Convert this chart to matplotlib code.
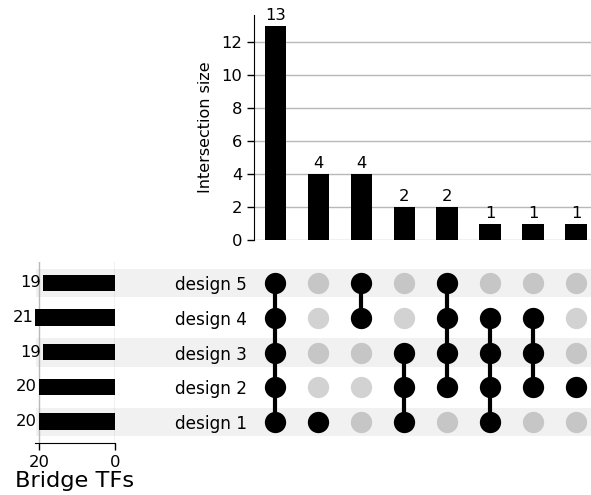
import matplotlib
matplotlib.use("Agg")
import matplotlib.pyplot as plt
from matplotlib.patches import Rectangle
from matplotlib.transforms import blended_transform_factory

# sets, listed bottom row to top row of the matrix
sets = ["design 1", "design 2", "design 3", "design 4", "design 5"]
set_sizes = [20, 20, 19, 21, 19]

# intersections, left to right
inter_sizes = [13, 4, 4, 2, 2, 1, 1, 1]
inter_members = [
    ["design 1", "design 2", "design 3", "design 4", "design 5"],
    ["design 1"],
    ["design 4", "design 5"],
    ["design 1", "design 2", "design 3"],
    ["design 2", "design 3", "design 4", "design 5"],
    ["design 1", "design 2", "design 3", "design 4"],
    ["design 2", "design 3", "design 4"],
    ["design 2"],
]

W, H = 591, 495
fig = plt.figure(figsize=(W / 100, H / 100), dpi=100)
plt.rcParams['font.family'] = ['DejaVu Sans']


def box(x0, y0, x1, y1):
    # pixel box (top-left origin) -> figure fraction rect
    return [x0 / W, 1 - y1 / H, (x1 - x0) / W, (y1 - y0) / H]


n = len(inter_sizes)
xlim = (-0.5, n - 0.65)

ax_bar = fig.add_axes(box(254, 14.5, 591, 240))
ax_mat = fig.add_axes(box(254, 265.6, 591, 439.4))
ax_tot = fig.add_axes(box(35, 262, 115, 443))
for a in (ax_bar, ax_mat, ax_tot):
    a.set_facecolor("none")

# ---- intersection size bars
x = list(range(n))
ax_bar.bar(x, inter_sizes, width=0.5, color="black", zorder=3)
for xi, v in zip(x, inter_sizes):
    ax_bar.annotate(str(v), (xi, v), xytext=(0, 2), textcoords="offset points",
                    ha="center", va="bottom", fontsize=11.8)
ax_bar.set_xlim(*xlim)
ax_bar.set_ylim(0, 13.7)
ax_bar.set_yticks(range(0, 13, 2))
ax_bar.set_xticks([])
ax_bar.tick_params(axis="y", labelsize=11.8, length=5, width=1)
ax_bar.grid(axis="y", color="#b8b8b8", lw=1, zorder=0)
for s in ("top", "right", "bottom"):
    ax_bar.spines[s].set_visible(False)
ax_bar.set_ylabel("Intersection size", fontsize=11.5, labelpad=6)

# ---- shading bands behind rows
tr = blended_transform_factory(fig.transFigure, ax_mat.transData)
for i, name in enumerate(sets):
    if i % 2 == 0:
        fig.add_artist(Rectangle((36 / W, i - 0.41), 1 - 36 / W, 0.82,
                                 transform=tr, color="#f1f1f1", zorder=-1, lw=0))

# ---- matrix dots
for ci, members in enumerate(inter_members):
    rows = [sets.index(m) for m in members]
    for ri in range(len(sets)):
        if ri not in rows:
            c = "#c6c6c6" if ri % 2 == 0 else "#d2d2d2"
            ax_mat.scatter(ci, ri, s=235, color=c, lw=0, zorder=2)
    ax_mat.scatter([ci] * len(rows), rows, s=235, color="black", lw=0, zorder=3)
    if len(rows) > 1:
        ax_mat.plot([ci, ci], [min(rows), max(rows)], color="black", lw=3, zorder=2)
ax_mat.set_xlim(*xlim)
ax_mat.set_ylim(-0.5, len(sets) - 0.5)
ax_mat.set_xticks([])
ax_mat.set_yticks(range(len(sets)))
ax_mat.set_yticklabels(sets, fontsize=12.2)
ax_mat.tick_params(axis="y", length=0, pad=5)
for s in ax_mat.spines.values():
    s.set_visible(False)

# ---- set size totals
ax_tot.barh(range(len(sets)), set_sizes, height=0.47, color="black", zorder=3)
for yi, v in enumerate(set_sizes):
    ax_tot.annotate(str(v), (v, yi), xytext=(-1.5, 0), textcoords="offset points",
                    ha="right", va="center", fontsize=11.8)
ax_tot.set_xlim(21.1, 0)
ax_tot.set_ylim(-0.615, 4.6)
ax_tot.set_xticks([20, 0])
ax_tot.set_yticks([])
ax_tot.tick_params(axis="x", labelsize=11.8, length=5, width=1)
ax_tot.grid(axis="x", color="#b8b8b8", lw=1, zorder=0)
for s in ("top", "right", "left"):
    ax_tot.spines[s].set_visible(False)
ax_tot.set_xlabel("Bridge TFs", fontsize=16.2, labelpad=1)

fig.savefig("out.png", dpi=100)
